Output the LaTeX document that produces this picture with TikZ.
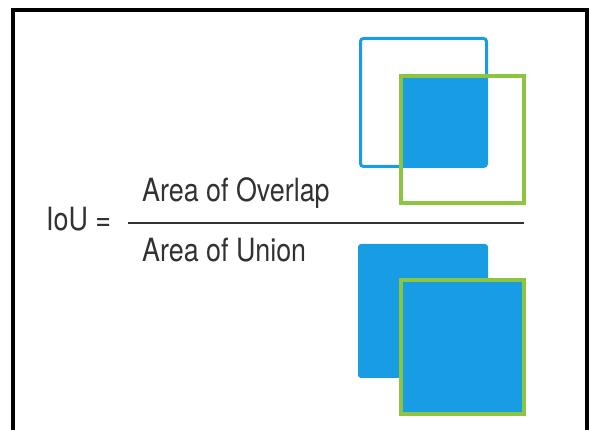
\documentclass[tikz,border=0pt]{standalone}
\usepackage{fontspec}
\usepackage{graphicx}
\setmainfont{TeX Gyre Heros}
\usepackage{tikz}
\usetikzlibrary{positioning}
\definecolor{boxblue}{RGB}{24,156,228}
\definecolor{boxgreen}{RGB}{140,198,64}
\definecolor{textgray}{RGB}{50,50,50}
\newcommand{\narrowtext}[1]{\scalebox{0.84}[1]{#1}}
\tikzset{
    frame/.style={draw=black, line width=3.2pt},
    predbox/.style={draw=boxblue, line width=3pt, rounded corners=3pt},
    truthbox/.style={draw=boxgreen, line width=4pt},
    overlap/.style={fill=boxblue, rounded corners=3pt},
    term/.style={anchor=base west, inner sep=0pt, text=textgray, font=\fontsize{32}{38}\selectfont},
    bar/.style={draw=textgray, line width=2pt}
}
\begin{document}
\begin{tikzpicture}[x=1pt, y=-1pt]
        \useasboundingbox (0,0) rectangle (590,430);
        % Frame (open at the bottom)
        \draw[frame] (13,432) -- (13,10) -- (587,10) -- (587,432);

        % Formula
        \node[term] (IoU) at (46,231) {\narrowtext{IoU =}};
        \node[term] (Num) at (142,202) {\narrowtext{Area of Overlap}};
        \node[term] (Den) at (142,262) {\narrowtext{Area of Union}};
        \coordinate (BarL) at (128,223);
        \coordinate (BarR) at (524,223);
        \draw[bar] (BarL) -- (BarR);

        % Top pair: intersection
        \draw[predbox] (360.5,38.5) rectangle (486.5,166.5);
        \fill[overlap] (400,75) rectangle (486.5,166.5);
        \draw[truthbox] (401,76) rectangle (524,203);

        % Bottom pair: union
        \fill[overlap] (358,244) rectangle (488,378);
        \draw[truthbox, fill=boxblue] (401,280) rectangle (524,414);
\end{tikzpicture}
\end{document}
